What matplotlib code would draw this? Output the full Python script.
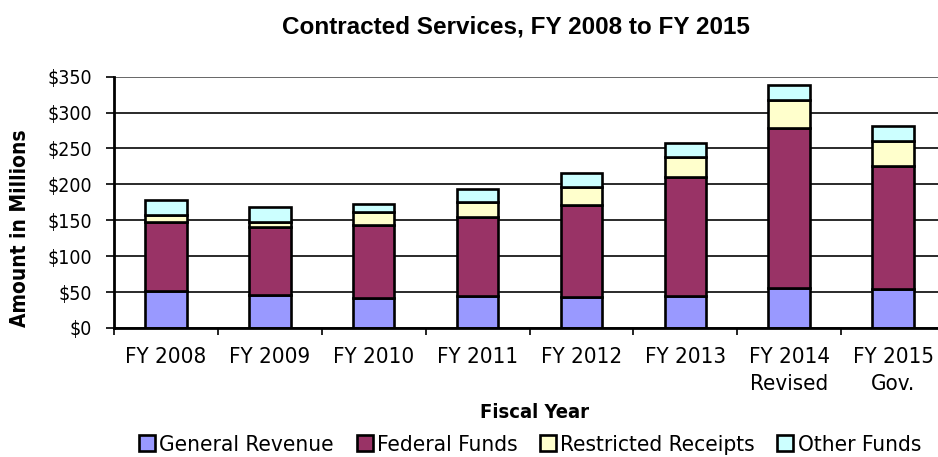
import numpy as np
import matplotlib
matplotlib.use('Agg')
import matplotlib.pyplot as plt

# Data (millions of dollars)
years = ['FY 2008', 'FY 2009', 'FY 2010', 'FY 2011', 'FY 2012', 'FY 2013',
         'FY 2014\nRevised', 'FY 2015\nGov.']
general_revenue = [52, 46, 42, 45, 43, 44, 56, 54]
federal_funds = [95, 94, 101, 109, 128, 166, 222, 171]
restricted_receipts = [10, 8, 18, 22, 26, 28, 39, 36]
other_funds = [21, 21, 12, 18, 19, 20, 21, 20]

series = [('General Revenue', general_revenue, '#9999FF'),
          ('Federal Funds', federal_funds, '#993366'),
          ('Restricted Receipts', restricted_receipts, '#FFFFCC'),
          ('Other Funds', other_funds, '#CCFFFF')]

plt.rcParams['font.family'] = 'DejaVu Sans'
plt.rcParams['font.stretch'] = 'condensed'

fig = plt.figure(figsize=(9.38, 4.57), dpi=100)
ax = fig.add_axes([0.1215, 0.2823, 0.8860, 0.5499])

x = np.arange(len(years))
bottom = np.zeros(len(years))
for name, vals, col in series:
    ax.bar(x, vals, 0.40, bottom=bottom, color=col, edgecolor='black',
           linewidth=1.9, label=name, zorder=3)
    bottom += np.array(vals)

ax.set_ylim(0, 350)
ax.set_xlim(-0.5, len(years) - 0.5)
ax.set_yticks(np.arange(0, 351, 50))
ax.set_yticklabels(['$%d' % v for v in range(0, 351, 50)], fontsize=14)
ax.yaxis.grid(True, color='#2a2a2a', linewidth=1.4, zorder=0)
ax.get_ygridlines()[-1].set_color('#666666')
ax.tick_params(axis='y', length=6, width=1.2, pad=10, direction='out')

ax.set_xticks(x)
ax.set_xticklabels(years, fontsize=16, linespacing=1.42)
ax.set_xticks(np.arange(-0.5, len(years), 1), minor=True)
ax.tick_params(axis='x', which='major', length=0, pad=14)
ax.tick_params(axis='x', which='minor', length=5, width=1.2, direction='out')

for s in ['top', 'right']:
    ax.spines[s].set_visible(False)
for s in ['left', 'bottom']:
    ax.spines[s].set_linewidth(2)
    ax.spines[s].set_zorder(4)

fig.text(0.55, 1 - 27 / 457, 'Contracted Services, FY 2008 to FY 2015',
         fontsize=17.5, fontweight='bold', family='Liberation Sans',
         stretch='normal', ha='center', va='center')
fig.text(0.021, 0.50, 'Amount in Millions', fontsize=15, fontweight='bold',
         rotation=90, ha='center', va='center')
fig.text(0.570, 1 - 413 / 457, 'Fiscal Year', fontsize=14.5,
         fontweight='bold', ha='center', va='center')

fig.legend(loc='center', bbox_to_anchor=(530 / 938, 1 - 445 / 457), ncol=4,
           frameon=False, fontsize=16.2, handlelength=0.72, handleheight=0.72,
           handletextpad=0.18, columnspacing=1.0, borderpad=0)

fig.savefig('out.png', dpi=100)
